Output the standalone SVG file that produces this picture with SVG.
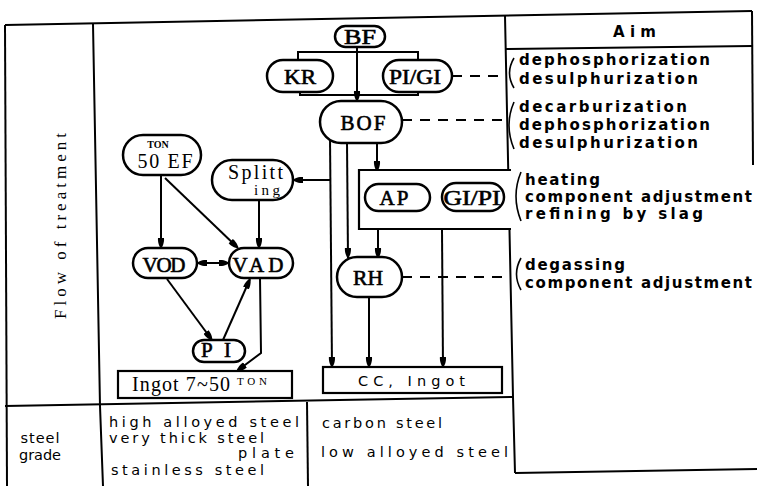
<svg xmlns="http://www.w3.org/2000/svg" width="757" height="486" viewBox="0 0 757 486">
<defs>
<marker id="ah" markerWidth="10" markerHeight="8" refX="10" refY="4" orient="auto-start-reverse" markerUnits="userSpaceOnUse">
<path d="M0,1 C5,0.5 10,3 10,4 C10,5 5,7.5 0,7 Z" fill="#000"/>
</marker>
<style>
.ln{fill:none;stroke:#000;stroke-width:2}
.c{fill:none;stroke:#000;stroke-width:2}
.d{fill:none;stroke:#000;stroke-width:2.2;stroke-dasharray:10 8}
.p{fill:#fff;stroke:#000;stroke-width:2.5}
.b{fill:#fff;stroke:#000;stroke-width:2.2}
.n{font-family:"Liberation Serif",serif;font-size:21px;text-anchor:middle;fill:#000;stroke:#000;stroke-width:0.6}
.s{font-family:"Liberation Serif",serif;fill:#000}
.a{font-family:"DejaVu Sans",sans-serif;font-size:15px;font-weight:bold;fill:#000}
.g{font-family:"DejaVu Sans",sans-serif;font-size:14.5px;fill:#000}
.br{fill:none;stroke:#000;stroke-width:1.6}
</style>
</defs>
<rect width="757" height="486" fill="#fff"/>

<g id="table">
<path class="ln" d="M5,25 L752,11"/>
<path class="ln" d="M5,25 L7,486"/>
<path class="ln" d="M752,11 L753,165"/>
<path class="ln" d="M505,49 L752,46"/>
<path class="ln" d="M505,16 L513,397 L515,473"/>
<path class="ln" d="M93,24 L100,406 L103,486"/>
<path class="ln" d="M5,406 L513,397"/>
<path class="ln" d="M307,402 L308,486"/>
<path class="ln" d="M515,473 L757,469"/>
<text class="s" font-size="17" text-anchor="middle" transform="translate(66,226) rotate(-90)" textLength="186" lengthAdjust="spacing">Flow of treatment</text>
<text class="a" x="613" y="37" font-size="16" textLength="43" lengthAdjust="spacing">Aim</text>
</g>

<g id="aim-texts">
<path class="br" d="M514,58 Q505,73 514,88"/>
<text class="a" x="519" y="65" textLength="191" lengthAdjust="spacing">dephosphorization</text>
<text class="a" x="519" y="84" textLength="179" lengthAdjust="spacing">desulphurization</text>
<path class="br" d="M514,102 Q504,125 514,149"/>
<text class="a" x="519" y="112" textLength="168" lengthAdjust="spacing">decarburization</text>
<text class="a" x="519" y="130" textLength="191" lengthAdjust="spacing">dephosphorization</text>
<text class="a" x="519" y="148" textLength="179" lengthAdjust="spacing">desulphurization</text>
<path class="br" d="M521,172 Q511,196 521,221"/>
<text class="a" x="525" y="185" textLength="75" lengthAdjust="spacing">heating</text>
<text class="a" x="525" y="202" textLength="227" lengthAdjust="spacing">component adjustment</text>
<text class="a" x="525" y="219" textLength="178" lengthAdjust="spacing">refining by slag</text>
<path class="br" d="M521,258 Q512,274 521,290"/>
<text class="a" x="525" y="270" textLength="100" lengthAdjust="spacing">degassing</text>
<text class="a" x="525" y="288" textLength="227" lengthAdjust="spacing">component adjustment</text>
</g>

<g id="steel-grade">
<text class="g" x="40" y="443" text-anchor="middle" textLength="39" lengthAdjust="spacing">steel</text>
<text class="g" x="40" y="460" text-anchor="middle" textLength="42" lengthAdjust="spacing">grade</text>
<text class="g" x="109" y="427" textLength="190" lengthAdjust="spacing">high alloyed steel</text>
<text class="g" x="109" y="443" textLength="155" lengthAdjust="spacing">very thick steel</text>
<text class="g" x="238" y="458" textLength="56" lengthAdjust="spacing">plate</text>
<text class="g" x="111" y="475" textLength="153" lengthAdjust="spacing">stainless steel</text>
<text class="g" x="322" y="428" textLength="120" lengthAdjust="spacing">carbon steel</text>
<text class="g" x="321" y="457" textLength="187" lengthAdjust="spacing">low alloyed steel</text>
</g>

<g id="connectors">
<path class="c" d="M298,61 V52 H418 V61" stroke-width="3"/>
<path class="c" d="M300,92 V95 H418 V92" stroke-width="3"/>
<path class="c" d="M357,47 V101" marker-end="url(#ah)"/>
<path class="d" d="M452,76 H505"/>
<path class="d" d="M402,120 H506"/>
<path class="d" d="M402,277 H511"/>
<path class="c" d="M330,137 L332,367" marker-end="url(#ah)"/>
<path class="c" d="M330,180 H293" marker-end="url(#ah)"/>
<path class="c" d="M347,142 L348,258" marker-end="url(#ah)"/>
<path class="c" d="M377,142 V171" marker-end="url(#ah)"/>
<path class="c" d="M378,229 V258" marker-end="url(#ah)"/>
<path class="c" d="M442,229 L443,367" marker-end="url(#ah)"/>
<path class="c" d="M369,297 V367" marker-end="url(#ah)"/>
<path class="c" d="M430,197 H442" stroke-width="4"/>
<path class="c" d="M161,175 V248" marker-end="url(#ah)"/>
<path class="c" d="M165,178 L238,248" marker-end="url(#ah)"/>
<path class="c" d="M259,200 V248" marker-end="url(#ah)"/>
<path class="c" d="M197,263 H229" stroke-width="3" marker-start="url(#ah)" marker-end="url(#ah)"/>
<path class="c" d="M167,279 L212,340" marker-end="url(#ah)"/>
<path class="c" d="M223,340 L250,279" marker-end="url(#ah)"/>
<path class="c" d="M260,278 L261,353 L237,371" marker-end="url(#ah)"/>
</g>

<g id="node-BF">
<rect class="p" x="335" y="26" width="50" height="21" rx="10.5"/>
<text class="n" x="360" y="44" textLength="32" lengthAdjust="spacingAndGlyphs">BF</text>
</g>
<g id="node-KR">
<rect class="p" x="267" y="60" width="66" height="32" rx="16"/>
<text class="n" x="300" y="84" textLength="32" lengthAdjust="spacingAndGlyphs">KR</text>
</g>
<g id="node-PIGI">
<rect class="p" x="383" y="60" width="69" height="32" rx="16"/>
<text class="n" x="415" y="84" textLength="52" lengthAdjust="spacingAndGlyphs">PI/GI</text>
</g>
<g id="node-BOF">
<rect class="p" x="320" y="101" width="82" height="42" rx="21"/>
<text class="n" x="363" y="130" textLength="45" lengthAdjust="spacing">BOF</text>
</g>
<g id="node-EF">
<rect class="p" x="123" y="135" width="78" height="40" rx="20"/>
<text class="s" x="158" y="148" font-size="10" font-weight="bold" text-anchor="middle">TON</text>
<text class="s" x="165" y="168" font-size="20" text-anchor="middle" textLength="55" lengthAdjust="spacing">50 EF</text>
</g>
<g id="node-Splitting">
<rect class="p" x="212" y="160" width="81" height="40" rx="20"/>
<text class="s" x="228" y="179" font-size="20" textLength="55" lengthAdjust="spacing">Splitt</text>
<text class="s" x="254" y="195" font-size="15" textLength="26" lengthAdjust="spacing">ing</text>
</g>
<g id="node-VOD">
<rect class="p" x="133" y="248" width="64" height="30" rx="15"/>
<text class="n" x="164" y="272" textLength="43" lengthAdjust="spacing">VOD</text>
</g>
<g id="node-VAD">
<rect class="p" x="229" y="248" width="64" height="30" rx="15"/>
<text class="n" x="258" y="272" textLength="51" lengthAdjust="spacing">VAD</text>
</g>
<g id="node-PI">
<rect class="p" x="193" y="340" width="52" height="22" rx="11"/>
<text class="n" x="216" y="357" textLength="30" lengthAdjust="spacing">PI</text>
</g>
<g id="node-Ingot">
<rect class="b" x="118" y="371" width="174" height="27"/>
<text class="s" x="132" y="391" font-size="20" textLength="98" lengthAdjust="spacing">Ingot 7~50</text>
<text class="s" x="237" y="385" font-size="11" textLength="30" lengthAdjust="spacing">TON</text>
</g>
<g id="node-APbox">
<path class="b" d="M511,170 H359 V229 H511" fill="none"/>
</g>
<g id="node-AP">
<rect class="p" x="365" y="184" width="65" height="27" rx="13.5"/>
<text class="n" x="394" y="205" textLength="29" lengthAdjust="spacing">AP</text>
</g>
<g id="node-GIPI">
<rect class="p" x="442" y="183" width="62" height="28" rx="14"/>
<text class="n" x="472" y="205" textLength="57" lengthAdjust="spacingAndGlyphs">GI/PI</text>
</g>
<g id="node-RH">
<rect class="p" x="337" y="257" width="65" height="40" rx="20"/>
<text class="n" x="368" y="285" textLength="30" lengthAdjust="spacingAndGlyphs">RH</text>
</g>
<g id="node-CC">
<rect class="b" x="323" y="367" width="179" height="26"/>
<text class="g" x="358" y="386" font-size="17" textLength="107" lengthAdjust="spacing">CC, Ingot</text>
</g>
</svg>
